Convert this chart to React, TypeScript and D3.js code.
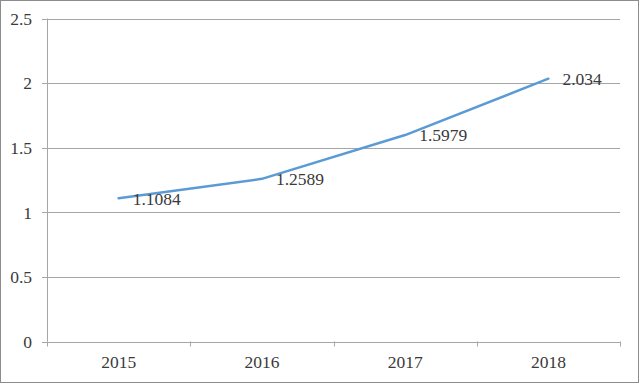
import React from "react";
import * as d3 from "d3";

const categories = ["2015", "2016", "2017", "2018"];
const values = [1.1084, 1.2589, 1.5979, 2.034];
const yTicks = [0, 0.5, 1, 1.5, 2, 2.5];
const labels = ["1.1084", "1.2589", "1.5979", "2.034"];

export default function App() {
  const W = 640, H = 384;
  const left = 47, right = 620, top = 18.5, bottom = 341.5;
  const x = d3.scaleBand<string>().domain(categories).range([left, right]);
  const y = d3.scaleLinear().domain([0, 2.5]).range([bottom, top]);
  const line = d3.line<number>()
    .x((_, i) => (x(categories[i]) as number) + x.bandwidth() / 2)
    .y((d) => y(d));
  const font = "Liberation Serif, DejaVu Serif, Times New Roman, serif";
  const bounds = [...categories.map((c) => x(c) as number), right];
  return (
    <svg width={W} height={H} style={{ position: "absolute", left: 0, top: 0 }}>
      <rect x={0} y={0} width={W} height={H} fill="#fff" />
      <rect x={0.5} y={0.5} width={W - 2} height={H - 2} fill="none" stroke="#8c8c8c" />
      {yTicks.map((t) => (
        <g key={t}>
          {t > 0 && (
            <line x1={left} x2={right} y1={Math.round(y(t)) + 0.5} y2={Math.round(y(t)) + 0.5} stroke="#a6a6a6" />
          )}
          <line x1={left - 5} x2={left} y1={Math.round(y(t)) + 0.5} y2={Math.round(y(t)) + 0.5} stroke="#a6a6a6" />
          <text x={32} y={y(t)} dy="0.36em" textAnchor="end" style={{ fontFamily: font, fontSize: 17.5 }} fill="#3a3a3a">
            {t}
          </text>
        </g>
      ))}
      <line x1={left + 0.5} x2={left + 0.5} y1={top} y2={bottom} stroke="#a6a6a6" />
      <line x1={left} x2={right} y1={Math.round(bottom) + 0.5} y2={Math.round(bottom) + 0.5} stroke="#a6a6a6" />
      {bounds.map((b, i) => (
        <line key={i} x1={Math.round(b) + 0.5} x2={Math.round(b) + 0.5} y1={bottom} y2={bottom + 5} stroke="#a6a6a6" />
      ))}
      {categories.map((c) => (
        <text key={c} x={(x(c) as number) + x.bandwidth() / 2} y={bottom + 26} textAnchor="middle" style={{ fontFamily: font, fontSize: 17.5 }} fill="#3a3a3a">
          {c}
        </text>
      ))}
      <path d={line(values) || ""} fill="none" stroke="#5b9bd5" strokeWidth={2.5} strokeLinejoin="round" strokeLinecap="round" />
      {values.map((v, i) => (
        <text key={i} x={(x(categories[i]) as number) + x.bandwidth() / 2 + 14} y={y(v)} dy="0.36em" style={{ fontFamily: font, fontSize: 17.5 }} fill="#3a3a3a">
          {labels[i]}
        </text>
      ))}
    </svg>
  );
}
